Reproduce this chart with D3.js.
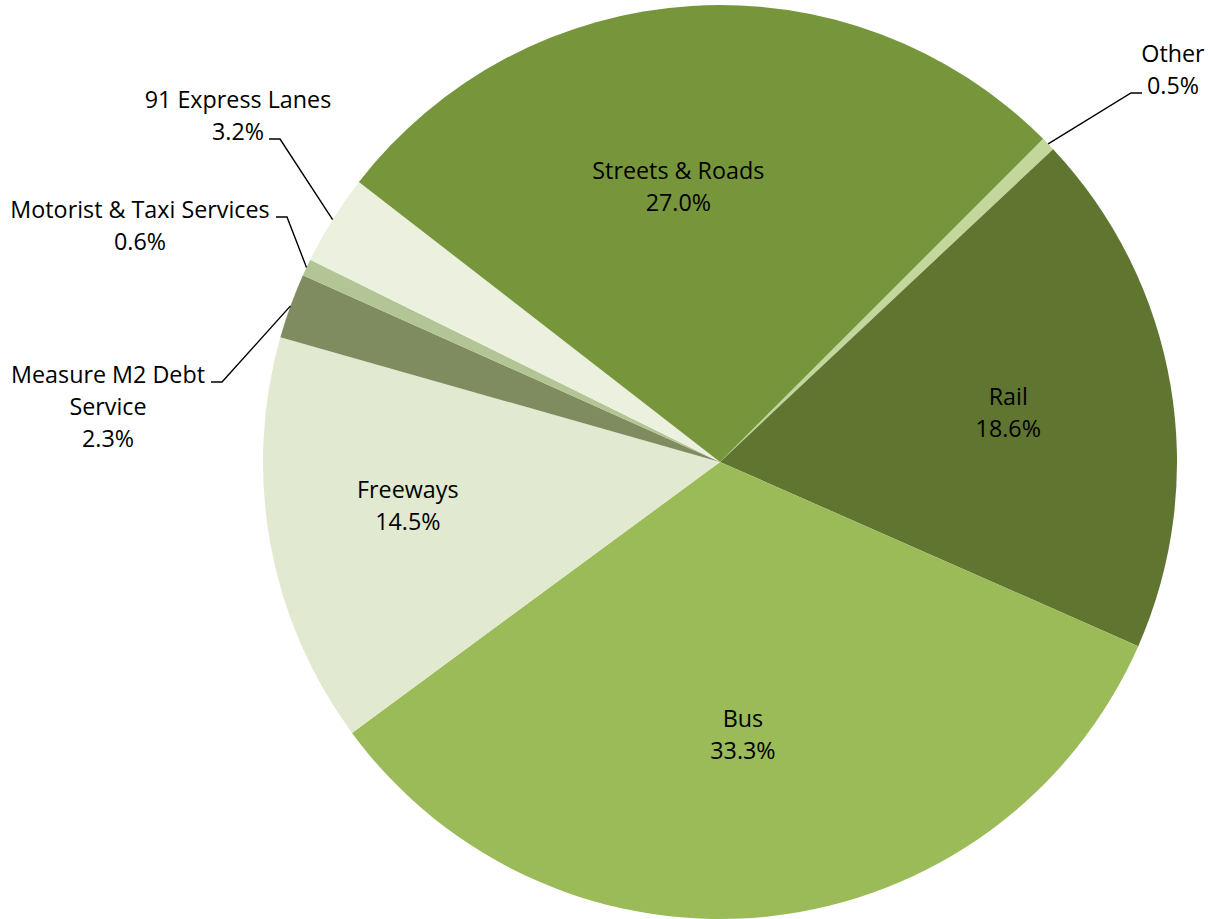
<!DOCTYPE html>
<html lang="en">
<head>
    <meta charset="utf-8">
    <title>Funding Pie</title>
    <style type="text/css">
    body {
        margin: 0;
        background-color: #fff;
    }
    .label {
        font-family: "Open Sans", Lato, sans-serif;
        font-size: 23.3px;
        fill: #000;
    }
    .leader {
        stroke: #000;
        stroke-width: 1.4px;
        fill: none;
    }
    </style>
    <script src="https://d3js.org/d3.v7.min.js"></script>
</head>
<body>
    <div id="chart"></div>
    <script>

    // data, in clockwise order from the "Other" slice
    var categories = ['Other', 'Rail', 'Bus', 'Freeways', 'Measure M2 Debt Service',
        'Motorist & Taxi Services', '91 Express Lanes', 'Streets & Roads'];
    var values = [0.5, 18.6, 33.3, 14.5, 2.3, 0.6, 3.2, 27.0];
    var valueLabels = ['0.5%', '18.6%', '33.3%', '14.5%', '2.3%', '0.6%', '3.2%', '27.0%'];
    var labelLines = [['Other'], ['Rail'], ['Bus'], ['Freeways'], ['Measure M2 Debt', 'Service'],
        ['Motorist & Taxi Services'], ['91 Express Lanes'], ['Streets & Roads']];
    var colors = ['#c3d69b', '#5f7530', '#9bbb59', '#e1e9d0', '#7f8c60', '#b3c595', '#ebf1de', '#77963c'];

    var width = 1208, height = 919;
    var cx = 720, cy = 462, radius = 457;
    var lineH = 32;

    // inside labels: [radius fraction, angle nudge in degrees]
    var inside = {
        'Rail': [0.64, 0],
        'Bus': [0.60, 1.5],
        'Freeways': [0.69, 2.2],
        'Streets & Roads': [0.61, -5]
    };
    // outside labels: text centre x, elbow x/y, side
    var outside = {
        'Other': { x: 1173, elbow: 1131, y: 93, dir: 1 },
        '91 Express Lanes': { x: 238, elbow: 280, y: 139, dir: -1 },
        'Motorist & Taxi Services': { x: 140, elbow: 287, y: 217, dir: -1 },
        'Measure M2 Debt Service': { x: 108, elbow: 222, y: 382, dir: -1 }
    };

    var data = categories.map(function(c, i) {
        return { name: c, value: values[i], text: valueLabels[i], lines: labelLines[i], color: colors[i] };
    });

    var svg = d3.select('#chart')
        .append('svg')
        .attr('width', width)
        .attr('height', height);

    var start = 45 * Math.PI / 180;
    var pie = d3.pie()
        .sort(null)
        .value(function(d) { return d.value; })
        .startAngle(start)
        .endAngle(start + 2 * Math.PI);

    var arc = d3.arc().innerRadius(0).outerRadius(radius);

    var g = svg.append('g')
        .attr('transform', 'translate(' + cx + ',' + cy + ')');

    var arcs = pie(data);

    g.selectAll('.slice')
        .data(arcs)
        .enter()
        .append('path')
        .attr('class', 'slice')
        .attr('d', arc)
        .attr('fill', function(d) { return d.data.color; });

    arcs.forEach(function(d) {
        var mid = (d.startAngle + d.endAngle) / 2;
        var allLines = d.data.lines.concat([d.data.text]);
        var p = inside[d.data.name];
        var x, y;

        if (p !== undefined) {
            var a = mid + p[1] * Math.PI / 180;
            x = Math.sin(a) * radius * p[0];
            y = -Math.cos(a) * radius * p[0] - (allLines.length - 1) * lineH / 2;
        } else {
            var o = outside[d.data.name];
            var px = Math.sin(mid) * radius, py = -Math.cos(mid) * radius;
            var ey = o.y - cy;
            var ex = o.elbow - cx;
            var tx = ex + 11 * o.dir;
            g.append('path')
                .attr('class', 'leader')
                .attr('d', 'M' + px + ',' + py + 'L' + ex + ',' + ey + 'L' + tx + ',' + ey);
            x = o.x - cx;
            // the line next to the elbow: value line on the right, first name line on the left
            var row = o.dir > 0 ? allLines.length - 1 : 0;
            if (d.data.name === '91 Express Lanes') row = 1;
            y = ey - 7 - row * lineH;
        }

        var t = g.append('text')
            .attr('class', 'label')
            .attr('text-anchor', 'middle')
            .attr('x', x)
            .attr('y', y);
        allLines.forEach(function(s, i) {
            t.append('tspan')
                .attr('x', x)
                .attr('y', y + i * lineH)
                .attr('dy', '0.35em')
                .text(s);
        });
    });

    </script>
</body>
</html>
